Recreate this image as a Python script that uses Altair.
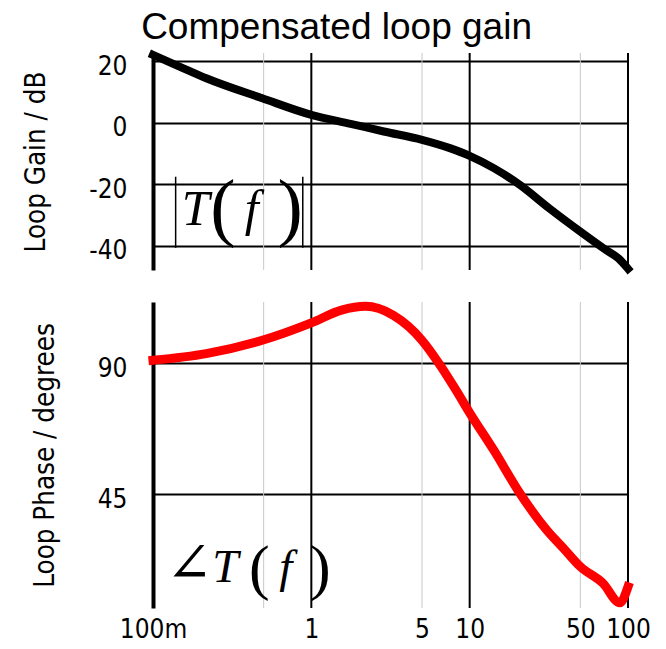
import altair as alt
import pandas as pd

TITLE = "Compensated loop gain"
GAIN_TITLE = "Loop Gain / dB"
PHASE_TITLE = "Loop Phase / degrees"

# magnitude curve (frequency, dB)
gain_freq = [0.1, 0.147, 0.217, 0.49, 1.0, 1.77, 2.87, 5.0, 7.5, 10.0, 14.2, 20.8, 31.7, 49.9, 72.6, 86.9, 100.0]
gain_db = [22.0, 18.2, 14.4, 7.9, 2.5, -0.4, -2.9, -5.6, -8.3, -10.8, -14.8, -20.3, -27.8, -35.4, -41.4, -44.1, -47.5]

# phase curve (frequency, degrees)
phase_freq = [0.1, 0.217, 0.49, 1.0, 1.55, 2.2, 3.3, 5.0, 6.4, 8.2, 10.0, 14.2, 20.8, 30.6, 40.0, 49.9, 69.6, 88.7, 100.0]
phase_deg = [91.1, 93.4, 98.0, 104.0, 108.4, 109.7, 106.6, 98.0, 90.0, 80.8, 73.0, 60.1, 45.2, 32.6, 25.7, 20.0, 14.2, 7.5, 13.0]

# grid and ticks
major_grid = [1, 10, 100]
minor_grid = [0.5, 5, 50]
gain_ticks = [20, 0, -20, -40]
phase_ticks = [90, 45]
x_tick_values = [0.1, 1, 5, 10, 50, 100]
x_tick_labels = ["100m", "1", "5", "10", "50", "100"]
x_domain = [0.1, 100]
gain_domain = [-47.9, 22.6]
phase_domain = [5.7, 111.2]

# annotations: |T(f)| in top panel
mag_bar_freq = [0.139, 0.883]
mag_bar_top = [-17.6, -17.6]
mag_bar_bottom = [-40.7, -40.7]
mag_italic_text = ["T", "f"]
mag_italic_freq = [0.186, 0.42]
mag_italic_base = [-33.3, -33.3]
mag_italic_size = [50, 50]
mag_paren_text = ["(", ")"]
mag_paren_freq = [0.276, 0.735]
mag_paren_base = [-35.6, -35.6]
mag_paren_size = [76, 76]

# annotations: angle T(f) in bottom panel
ph_italic_text = ["T", "f"]
ph_italic_freq = [0.286, 0.69]
ph_italic_base = [14.8, 14.8]
ph_italic_size = [47, 47]
ph_up_text = ["\u2220", "(", ")"]
ph_up_freq = [0.169, 0.469, 1.14]
ph_up_base = [14.7, 12.6, 12.6]
ph_up_size = [56, 62, 62]

SANS = "DejaVu Sans Condensed, DejaVu Sans"
SERIF = "Liberation Serif, DejaVu Serif"
W = 475

x_scale = alt.Scale(type="log", domain=x_domain, nice=False)

label_expr = "''"
for v, lab in reversed(list(zip(x_tick_values, x_tick_labels))):
    label_expr = f"abs(datum.value - {v}) < {v * 0.01} ? '{lab}' : ({label_expr})"

x_axis_bottom = alt.Axis(
    values=x_tick_values, labelExpr=label_expr, grid=False, domain=False, ticks=False,
    labelPadding=8, labelFont=SANS, labelFontSize=26, labelColor="black",
    labelFlush=False, labelOverlap=False, title=None,
)


def y_axis(title, values):
    return alt.Axis(
        values=values, labelExpr="toString(datum.value)", grid=True, gridColor="black", gridWidth=2,
        domain=True, domainColor="black", domainWidth=4, ticks=False,
        labelPadding=26, labelFont=SANS, labelFontSize=26, labelColor="black", labelOffset=5,
        labelFlush=False, title=title, titleFont=SANS, titleFontSize=27.5,
        titleFontWeight="normal", titleColor="black", titlePadding=38,
    )


def panel(x_axis, y_scale, y_ax, curve_f, curve_v, color, sw, texts_italic, texts_up, bars):
    X = lambda: alt.X("f:Q", scale=x_scale, axis=x_axis)
    Y = lambda: alt.Y("v:Q", scale=y_scale, axis=y_ax)
    minor = alt.Chart(pd.DataFrame({"f": minor_grid})).mark_rule(color="#c8c8c8", strokeWidth=1).encode(x=X())
    major = alt.Chart(pd.DataFrame({"f": major_grid})).mark_rule(color="black", strokeWidth=2).encode(x=X())
    curve = alt.Chart(pd.DataFrame({"f": curve_f, "v": curve_v})).mark_line(
        color=color, strokeWidth=sw, strokeCap="square", interpolate="monotone", clip=False
    ).encode(x=X(), y=Y())
    layers = [minor, major, curve]
    if bars is not None:
        bf, bt, bb = bars
        layers.append(
            alt.Chart(pd.DataFrame({"f": bf, "v": bt, "v2": bb})).mark_rule(color="black", strokeWidth=1.5)
            .encode(x=X(), y=Y(), y2="v2:Q")
        )
    for (t, f, b, s), style in ((texts_italic, "italic"), (texts_up, "normal")):
        layers.append(
            alt.Chart(pd.DataFrame({"t": t, "f": f, "v": b, "s": s})).mark_text(
                font=SERIF, fontStyle=style, color="black", align="center", baseline="alphabetic"
            ).encode(x=X(), y=Y(), text="t:N", size=alt.Size("s:Q", scale=None))
        )
    return alt.layer(*layers)


top = panel(
    None, alt.Scale(domain=gain_domain, nice=False, zero=False), y_axis(GAIN_TITLE, gain_ticks),
    gain_freq, gain_db, "black", 8,
    (mag_italic_text, mag_italic_freq, mag_italic_base, mag_italic_size),
    (mag_paren_text, mag_paren_freq, mag_paren_base, mag_paren_size),
    (mag_bar_freq, mag_bar_top, mag_bar_bottom),
).properties(width=W, height=217)

bottom = panel(
    x_axis_bottom, alt.Scale(domain=phase_domain, nice=False, zero=False), y_axis(PHASE_TITLE, phase_ticks),
    phase_freq, phase_deg, "#ff0000", 9,
    (ph_italic_text, ph_italic_freq, ph_italic_base, ph_italic_size),
    (ph_up_text, ph_up_freq, ph_up_base, ph_up_size),
    None,
).properties(width=W, height=306)

chart = alt.vconcat(top, bottom, spacing=32, bounds="flush").properties(
    title=alt.TitleParams(TITLE, font="Liberation Sans", fontSize=37, fontWeight="normal",
                          color="black", anchor="middle", offset=-8),
    padding={"left": 14, "top": 0, "right": 5, "bottom": 5},
).configure_view(strokeWidth=0)

chart.save("out.html", embed_options={"renderer": "svg", "actions": False})
